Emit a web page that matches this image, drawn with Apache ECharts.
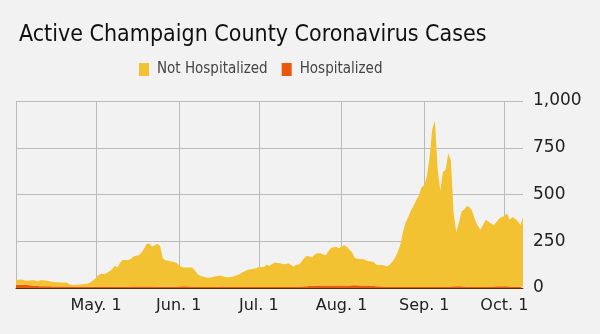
<!DOCTYPE html>
<html>
<head>
<meta charset="utf-8">
<script src="https://cdn.jsdelivr.net/npm/echarts@6/dist/echarts.min.js"></script>
<style>
html,body{margin:0;padding:0;background:#f2f2f2;}
#c{width:600px;height:334px;}
</style>
</head>
<body>
<div id="c"></div>
<script>
// Daily values from 2020-04-01 to 2020-10-08 (191 days)
const startDate = '2020-04-01';
const dayCount = 191;
const tickLabels = ['May. 1','Jun. 1','Jul. 1','Aug. 1','Sep. 1','Oct. 1'];
const seriesNames = ['Not Hospitalized','Hospitalized'];

const notHospitalized = [
26,26,28,25,23,25,28,30,24,32,
32,31,29,26,24,23,23,22,22,22,
12,8,10,11,12,13,14,17,25,35,
48,63,71,67,73,83,93,112,103,128,
143,143,143,147,160,164,167,182,202,227,
230,214,220,229,218,153,141,139,135,133,
128,117,103,101,101,102,102,88,69,60,
56,52,49,50,54,56,58,58,52,50,
52,54,58,64,70,79,87,93,95,98,
101,107,107,109,119,114,123,132,129,127,
123,122,127,120,108,118,119,132,151,163,
157,153,168,173,173,167,161,181,200,204,
207,198,208,214,206,191,175,145,141,141,
141,135,132,130,129,115,114,115,113,109,
119,135,155,185,225,295,345,375,410,435,
465,490,535,545,594,694,844,889,634,514,
614,626,713,672,391,290,340,401,412,431,
426,404,359,329,306,329,359,349,338,329,
343,360,370,375,391,357,373,363,351,330,
371
];

const hospitalized = [
16,18,18,17,16,15,14,12,11,10,
10,9,9,9,8,8,8,8,8,8,
8,8,7,7,7,7,7,7,7,7,
7,7,7,7,7,7,7,7,7,7,
7,7,7,8,8,8,8,8,8,8,
8,8,8,7,7,7,7,7,7,7,
7,8,9,9,9,8,7,7,6,6,
6,6,6,6,6,7,7,8,8,7,
6,6,6,6,6,5,5,5,5,5,
5,5,5,5,5,5,5,5,5,5,
5,5,5,5,6,6,7,8,9,10,
11,12,12,13,13,13,14,14,14,14,
14,14,14,14,14,14,15,15,15,14,
14,13,13,12,11,10,9,8,7,6,
5,5,5,5,5,5,5,5,5,5,
5,5,5,5,6,6,6,6,6,6,
6,6,7,8,9,10,10,9,8,7,
6,6,6,6,6,6,6,6,7,8,
9,10,10,10,9,8,7,7,7,7,
7
];

const months = ['Jan','Feb','Mar','Apr','May','Jun','Jul','Aug','Sep','Oct','Nov','Dec'];
const dates = [];
const d0 = new Date(startDate + 'T00:00:00Z');
for (let i = 0; i < dayCount; i++) {
  const d = new Date(d0.getTime() + i * 86400000);
  dates.push(d.toISOString().slice(0,10));
}
function isMonthStart(v){ return v.slice(8,10) === '01'; }
function labelFor(v){
  const m = months[parseInt(v.slice(5,7),10)-1];
  return m + '. ' + parseInt(v.slice(8,10),10);
}

const chart = echarts.init(document.getElementById('c'), null, {renderer:'canvas'});
const FONT = 'DejaVu Sans';
const FONT_C = 'DejaVu Sans Condensed';
chart.setOption({
  backgroundColor: '#f2f2f2',
  animation: false,
  textStyle: {fontFamily: FONT},
  title: {
    text: 'Active Champaign County Coronavirus Cases',
    left: 14, top: 19,
    textStyle: {fontFamily: FONT_C, fontSize: 23, fontWeight: 'normal', color: '#111'}
  },
  legend: {
    data: seriesNames,
    top: 57, left: 134,
    itemWidth: 10, itemHeight: 13, itemGap: 14,
    icon: 'rect',
    textStyle: {fontFamily: FONT_C, fontSize: 15, color: '#444', padding: [0,0,0,3]}
  },
  grid: {left: 16, right: 77, top: 101, bottom: 46},
  xAxis: {
    type: 'category',
    data: dates,
    boundaryGap: false,
    axisTick: {show: false},
    axisLine: {show: true, lineStyle: {color: '#5a2c10', width: 1}},
    axisLabel: {
      interval: (i, v) => isMonthStart(v) && i > 0,
      formatter: (v) => labelFor(v),
      fontFamily: FONT, fontSize: 16, color: '#222', margin: 10
    },
    splitLine: {show: true, interval: (i, v) => isMonthStart(v), lineStyle: {color: '#bbbbbb', width: 1}}
  },
  yAxis: {
    type: 'value',
    position: 'right',
    min: 0, max: 1000, interval: 250,
    axisLine: {show: false},
    axisTick: {show: false},
    axisLabel: {
      formatter: (v) => v.toLocaleString('en-US'),
      fontFamily: FONT, fontSize: 17, color: '#222', margin: 10
    },
    splitLine: {lineStyle: {color: '#bbbbbb', width: 1}}
  },
  series: [
    {
      name: 'Hospitalized', type: 'line', stack: 'total', data: hospitalized,
      showSymbol: false, symbol: 'none', lineStyle: {width: 0},
      itemStyle: {color: '#e8590c'},
      areaStyle: {color: '#e8590c', opacity: 1}
    },
    {
      name: 'Not Hospitalized', type: 'line', stack: 'total', data: notHospitalized,
      showSymbol: false, symbol: 'none', lineStyle: {width: 0},
      itemStyle: {color: '#f2c232'},
      areaStyle: {color: '#f2c232', opacity: 1}
    }
  ]
});
</script>
</body>
</html>
